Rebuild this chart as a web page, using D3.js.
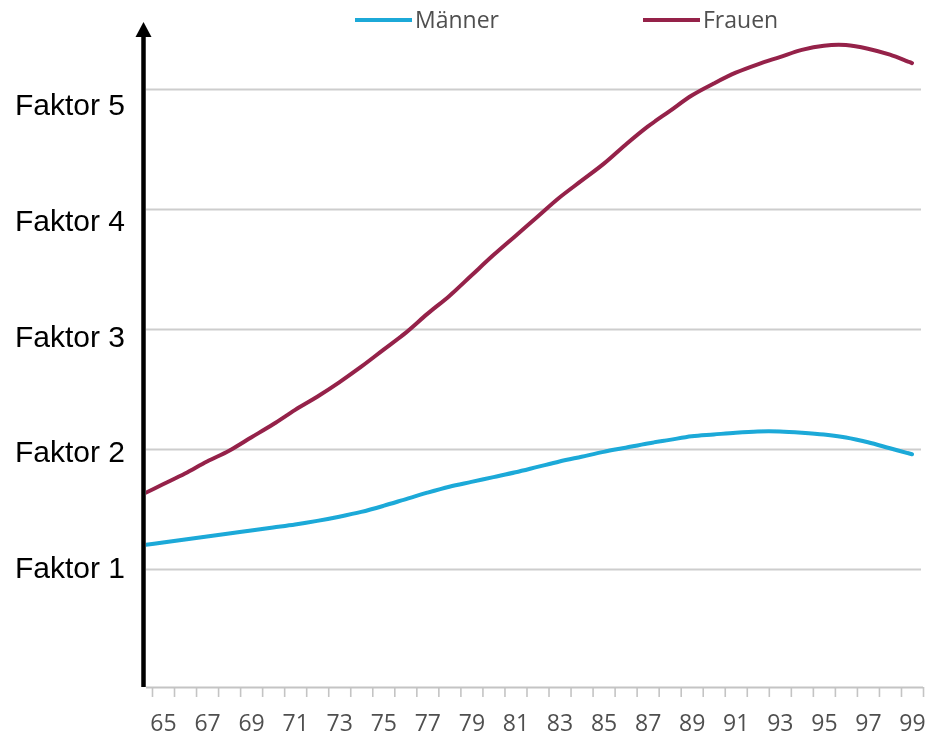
<!DOCTYPE html>
<html>
<head>
<meta charset="utf-8">
<script src="https://cdn.jsdelivr.net/npm/d3@7"></script>
<style>
  html, body { margin: 0; padding: 0; background: #fff; }
  svg { display: block; }
</style>
</head>
<body>
<svg id="chart" width="930" height="737"></svg>
<script>
// Age (years) and relative factor per sex
const ages = [64,65,66,67,68,69,70,71,72,73,74,75,76,77,78,79,80,81,82,83,84,85,86,87,88,89,90,91,92,93,94,95,96,97,98,99];
const maenner = [1.20,1.225,1.25,1.275,1.30,1.325,1.35,1.375,1.405,1.44,1.48,1.53,1.585,1.64,1.69,1.73,1.77,1.81,1.855,1.90,1.94,1.98,2.015,2.05,2.08,2.11,2.125,2.14,2.15,2.15,2.14,2.125,2.10,2.06,2.01,1.96];
const frauen  = [1.62,1.71,1.80,1.90,1.99,2.10,2.21,2.33,2.44,2.56,2.69,2.83,2.97,3.13,3.28,3.45,3.62,3.78,3.94,4.10,4.24,4.38,4.54,4.69,4.82,4.95,5.05,5.14,5.21,5.27,5.33,5.365,5.37,5.34,5.29,5.22];
const tickLabels = [65,67,69,71,73,75,77,79,81,83,85,87,89,91,93,95,97,99];
const factorTicks = [1,2,3,4,5];
const seriesNames = ["Männer", "Frauen"];
const seriesColors = ["#1aa9d8", "#95204a"];

const svg = d3.select("#chart");
const defs = svg.append("defs");

// soft look of the plotted area
defs.append("filter").attr("id", "soft")
  .attr("x", "-5%").attr("y", "-5%").attr("width", "110%").attr("height", "110%")
  .append("feGaussianBlur").attr("stdDeviation", 0.6);

const axisX = 143.5;      // black value axis
const plotLeft = 146, plotRight = 923, baseY = 687;

const x = d3.scaleLinear().domain([65, 99]).range([163, 912]);
const y = d3.scaleLinear().domain([0, 5]).range([689.5, 89.5]);
// hand-set label row for the factor captions
const yLabel = d3.scaleLinear().domain([1, 5]).range([578, 115]);

defs.append("clipPath").attr("id", "plotClip")
  .append("rect").attr("x", plotLeft).attr("y", 0)
  .attr("width", 930 - plotLeft).attr("height", 737);

const plot = svg.append("g").attr("filter", "url(#soft)");

// horizontal gridlines
plot.append("g").selectAll("line").data(factorTicks).join("line")
  .attr("x1", plotLeft).attr("x2", plotRight - 2)
  .attr("y1", d => y(d)).attr("y2", d => y(d))
  .attr("stroke", "#cdcdcd").attr("stroke-width", 2);

// category axis: ticks between years, labels on odd years
const halfTicks = d3.range(64.5, 100, 1);
const tickAxis = d3.axisBottom(x).tickValues(halfTicks).tickFormat("").tickSizeInner(10).tickSizeOuter(0);
const tg = plot.append("g").attr("transform", `translate(0,${baseY})`).call(tickAxis);
tg.select(".domain").attr("d", `M${plotLeft},0.5H${plotRight}`).attr("stroke", "#c4c4c4").attr("stroke-width", 2);
tg.selectAll(".tick line").attr("stroke", "#c4c4c4").attr("stroke-width", 1.6);

const labelAxis = d3.axisBottom(x).tickValues(tickLabels).tickFormat(d3.format("d")).tickSize(0).tickPadding(0);
const lg = plot.append("g").attr("transform", `translate(0,${baseY})`).call(labelAxis);
lg.select(".domain").remove();
lg.selectAll(".tick text")
  .attr("y", 44).attr("dy", null)
  .attr("font-family", "'Open Sans', sans-serif").attr("font-size", 23)
  .attr("fill", "#505050");

// series lines
const line = d3.line().x((d, i) => x(ages[i])).y(d => y(d)).curve(d3.curveCatmullRom.alpha(0.5));
const lines = plot.append("g").attr("clip-path", "url(#plotClip)");
[maenner, frauen].forEach((vals, k) => {
  lines.append("path").datum(vals)
    .attr("d", line)
    .attr("fill", "none")
    .attr("stroke", seriesColors[k])
    .attr("stroke-width", 4)
    .attr("stroke-linecap", "round");
});

// legend
const legendPos = [355, 643];
const legend = plot.append("g");
seriesNames.forEach((name, k) => {
  const g = legend.append("g").attr("transform", `translate(${legendPos[k]},20)`);
  g.append("line").attr("x1", 0).attr("x2", 57).attr("y1", 0).attr("y2", 0)
    .attr("stroke", seriesColors[k]).attr("stroke-width", 4);
  g.append("text").attr("x", 60).attr("y", 8)
    .attr("font-family", "'Open Sans', sans-serif").attr("font-size", 23)
    .attr("fill", "#505050").text(name);
});

// black value axis with arrowhead
svg.append("line")
  .attr("x1", axisX).attr("x2", axisX).attr("y1", 34).attr("y2", baseY)
  .attr("stroke", "#000").attr("stroke-width", 4.5);
svg.append("path")
  .attr("d", d3.line()([[axisX - 8, 37], [axisX, 22], [axisX + 8, 37]]) + "Z")
  .attr("fill", "#000");

// factor captions
svg.append("g").selectAll("text").data(factorTicks).join("text")
  .attr("x", 15).attr("y", d => yLabel(d))
  .attr("font-family", "'Liberation Sans', Arial, sans-serif")
  .attr("font-size", 30).attr("fill", "#000")
  .text(d => `Faktor ${d}`);
</script>
</body>
</html>
